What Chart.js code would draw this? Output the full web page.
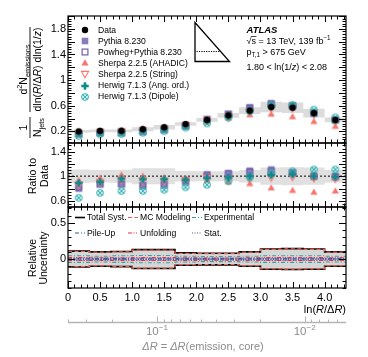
<!DOCTYPE html>
<html>
<head>
<title>Lund plane slice</title>
<script src="https://cdn.jsdelivr.net/npm/chart.js@4.4.1/dist/chart.umd.min.js"></script>
<style>
    body { margin: 0; background: #fff; }
    #wrap { position: relative; width: 368px; height: 357px; }
    #wrap canvas { position: absolute; left: 0; top: 0; }
</style>
</head>
<body>
<div id="wrap">
    <canvas id="topPanel" width="368" height="357"></canvas>
    <canvas id="ratioPanel" width="368" height="357"></canvas>
    <canvas id="uncPanel" width="368" height="357"></canvas>
</div>

<script>
// bins in ln(R/dR)
const binEdges   = [0, 0.333, 0.667, 1.0, 1.333, 1.667, 2.0, 2.333, 2.667, 3.0, 3.333, 3.667, 4.0, 4.333];
const binCenters = [0.167, 0.5, 0.833, 1.167, 1.5, 1.833, 2.167, 2.5, 2.833, 3.167, 3.5, 3.833, 4.167];

// top panel values
const dataVals     = [0.20, 0.21, 0.21, 0.235, 0.265, 0.315, 0.38, 0.45, 0.525, 0.58, 0.57, 0.485, 0.38];
const pythiaVals   = [0.16, 0.185, 0.185, 0.20, 0.23, 0.29, 0.39, 0.47, 0.575, 0.64, 0.60, 0.485, 0.38];
const powhegVals   = [0.165, 0.18, 0.18, 0.20, 0.23, 0.285, 0.385, 0.47, 0.565, 0.625, 0.60, 0.485, 0.375];
const sherpaAVals  = [0.185, 0.205, 0.215, 0.235, 0.26, 0.30, 0.355, 0.41, 0.46, 0.47, 0.43, 0.355, 0.28];
const sherpaSVals  = [0.17, 0.19, 0.20, 0.22, 0.245, 0.295, 0.37, 0.42, 0.505, 0.57, 0.565, 0.47, 0.365];
const herwigAOVals = [0.18, 0.19, 0.20, 0.225, 0.25, 0.295, 0.37, 0.44, 0.525, 0.59, 0.585, 0.485, 0.375];
const herwigDVals  = [0.13, 0.155, 0.16, 0.18, 0.205, 0.26, 0.325, 0.415, 0.515, 0.61, 0.615, 0.54, 0.42];

// ratio to data
const pythiaRatio   = [0.80, 0.88, 0.88, 0.85, 0.87, 0.92, 1.03, 1.05, 1.09, 1.11, 1.06, 1.00, 1.00];
const powhegRatio   = [0.82, 0.87, 0.87, 0.85, 0.86, 0.91, 1.01, 1.04, 1.07, 1.08, 1.05, 1.00, 0.99];
const sherpaARatio  = [0.93, 0.97, 1.02, 1.00, 0.98, 0.95, 0.94, 0.91, 0.88, 0.81, 0.77, 0.74, 0.76];
const sherpaSRatio  = [0.86, 0.90, 0.94, 0.93, 0.92, 0.94, 0.97, 0.93, 0.96, 0.98, 0.99, 0.97, 0.96];
const herwigAORatio = [0.89, 0.91, 0.96, 0.95, 0.95, 0.94, 0.97, 0.98, 1.00, 1.02, 1.03, 1.00, 0.99];
const herwigDRatio  = [0.65, 0.73, 0.76, 0.76, 0.78, 0.82, 0.86, 0.92, 0.98, 1.05, 1.08, 1.11, 1.11];

// relative uncertainties
const totSyst      = [0.11, 0.10, 0.105, 0.13, 0.13, 0.085, 0.08, 0.08, 0.10, 0.14, 0.145, 0.14, 0.10];
const mcModeling   = [0.105, 0.095, 0.10, 0.125, 0.125, 0.08, 0.075, 0.075, 0.095, 0.135, 0.14, 0.135, 0.095];
const experimental = [0.045, 0.04, 0.045, 0.05, 0.05, 0.04, 0.035, 0.035, 0.04, 0.045, 0.045, 0.045, 0.04];
const pileUp       = [0.012, 0.01, 0.01, 0.012, 0.012, 0.01, 0.01, 0.01, 0.01, 0.012, 0.012, 0.012, 0.01];
const unfolding    = [0.02, 0.018, 0.018, 0.02, 0.02, 0.018, 0.015, 0.015, 0.018, 0.02, 0.02, 0.02, 0.018];
const statUnc      = [0.005, 0.005, 0.005, 0.005, 0.005, 0.005, 0.005, 0.005, 0.005, 0.006, 0.006, 0.006, 0.006];

const seriesNames = ['Data', 'Pythia 8.230', 'Powheg+Pythia 8.230', 'Sherpa 2.2.5 (AHADIC)',
                     'Sherpa 2.2.5 (String)', 'Herwig 7.1.3 (Ang. ord.)', 'Herwig 7.1.3 (Dipole)'];
const uncNames = ['Total Syst.', 'MC Modeling', 'Experimental', 'Pile-Up', 'Unfolding', 'Stat.'];

// secondary axis, dR = R * exp(-x)
const deltaRMajor  = [0.1, 0.01];
const deltaRMinor  = [0.4, 0.3, 0.2, 0.09, 0.08, 0.07, 0.06, 0.05, 0.04, 0.03, 0.02, 0.009, 0.008, 0.007, 0.006];
const deltaRLabels = ['\u22121', '\u22122'];

const FONT = '"Liberation Sans", Arial, Helvetica, sans-serif';
const colPythia = '#8a7bbd', colPowheg = '#6f5fa8', colSherpa = '#f8766d';
const colHerwig = '#0f8a8c', colDipole = '#2fb0b0';
const uncStyles = [
    { color: '#000000', dash: [], width: 1.6 },
    { color: '#f0604d', dash: [4, 2.5], width: 1.2 },
    { color: '#36a3a0', dash: [4, 2, 1, 2], width: 1.1 },
    { color: '#1f5fa8', dash: [4, 2, 1, 2], width: 1.1 },
    { color: '#e33545', dash: [4, 1.5, 1, 1.5, 1, 1.5], width: 1.1 },
    { color: '#6653b0', dash: [1, 1.5], width: 1.1 }
];

Chart.defaults.font.family = FONT;
Chart.defaults.color = '#000';

function marker(draw) {
    const c = document.createElement('canvas');
    c.width = 12; c.height = 12;
    const g = c.getContext('2d');
    g.translate(6, 6);
    draw(g);
    return c;
}
function tri(g, dir) {
    g.beginPath();
    g.moveTo(0, -3.8 * dir); g.lineTo(3.6, 2.6 * dir); g.lineTo(-3.6, 2.6 * dir); g.closePath();
}
const mData = marker(g => { g.fillStyle = '#000'; g.beginPath(); g.arc(0, 0, 3.2, 0, 2 * Math.PI); g.fill(); });
const mPythia = marker(g => { g.fillStyle = colPythia; g.fillRect(-3.3, -3.3, 6.6, 6.6); });
const mPowheg = marker(g => { g.strokeStyle = colPowheg; g.lineWidth = 1.2; g.strokeRect(-2.9, -2.9, 5.8, 5.8); });
const mSherpaA = marker(g => { g.fillStyle = colSherpa; tri(g, 1); g.fill(); });
const mSherpaS = marker(g => { g.strokeStyle = colSherpa; g.lineWidth = 1.1; tri(g, -1); g.stroke(); });
const mHerwigAO = marker(g => { g.fillStyle = colHerwig; g.fillRect(-3.7, -1.3, 7.4, 2.6); g.fillRect(-1.3, -3.7, 2.6, 7.4); });
const mHerwigD = marker(g => {
    g.strokeStyle = colDipole; g.lineWidth = 1.1;
    g.beginPath(); g.arc(0, 0, 3.3, 0, 2 * Math.PI); g.stroke();
    g.beginPath(); g.moveTo(-2.3, -2.3); g.lineTo(2.3, 2.3); g.moveTo(2.3, -2.3); g.lineTo(-2.3, 2.3); g.stroke();
});
const markers = [mData, mPythia, mPowheg, mSherpaA, mSherpaS, mHerwigAO, mHerwigD];

function pointSet(vals, img, order) {
    return { data: binCenters.map((x, i) => ({ x: x, y: vals[i] })), showLine: false,
             pointStyle: img, pointRadius: 4, order: order };
}
function stepSet(vals, extra) {
    return Object.assign({
        data: binEdges.map((x, i) => ({ x: x, y: vals[Math.min(i, vals.length - 1)] })),
        stepped: 'before', pointRadius: 0, borderWidth: 0, borderColor: 'rgba(0,0,0,0)', fill: false
    }, extra);
}

// text with italic / sub / sup pieces
function rich(ctx, segs, x, y, size, align) {
    let w = 0;
    const parts = segs.map(s => {
        const sz = (s.sub || s.sup) ? size * 0.7 : size;
        const f = (s.b ? 'bold ' : '') + (s.i ? 'italic ' : '') + sz + 'px ' + FONT;
        ctx.font = f;
        const pw = ctx.measureText(s.t).width;
        w += pw;
        return { t: s.t, f: f, w: pw, dy: s.sub ? size * 0.3 : (s.sup ? -size * 0.42 : 0) };
    });
    let cx = align === 'center' ? x - w / 2 : (align === 'right' ? x - w : x);
    ctx.textAlign = 'left';
    ctx.textBaseline = 'alphabetic';
    parts.forEach(p => { ctx.font = p.f; ctx.fillText(p.t, cx, y + p.dy); cx += p.w; });
    return w;
}
function vRich(ctx, segs, cx, cy, size, v) {
    ctx.save();
    ctx.translate(cx, cy);
    ctx.rotate(-Math.PI / 2);
    rich(ctx, segs, 0, v, size, 'center');
    ctx.restore();
}

function panelFrame(yMajor, yMinor) {
    return {
        id: 'panelFrame',
        afterDatasetsDraw(chart) {
            const { ctx, chartArea: a } = chart;
            const x = chart.scales.x, y = chart.scales.y;
            ctx.save();
            ctx.strokeStyle = '#000';
            ctx.lineWidth = 1;
            ctx.beginPath();
            for (let k = Math.ceil(x.min * 10 - 1e-6); k <= Math.floor(x.max * 10 + 1e-6); k++) {
                const px = Math.round(x.getPixelForValue(k / 10)) + 0.5;
                const len = k % 5 === 0 ? 6 : 3.5;
                ctx.moveTo(px, a.bottom); ctx.lineTo(px, a.bottom - len);
                ctx.moveTo(px, a.top); ctx.lineTo(px, a.top + len);
            }
            const n = Math.round(yMajor / yMinor);
            for (let k = Math.ceil(y.min / yMinor - 1e-6); k <= Math.floor(y.max / yMinor + 1e-6); k++) {
                const py = Math.round(y.getPixelForValue(k * yMinor)) + 0.5;
                const len = k % n === 0 ? 7 : 3.5;
                ctx.moveTo(a.left, py); ctx.lineTo(a.left + len, py);
                ctx.moveTo(a.right, py); ctx.lineTo(a.right - len, py);
            }
            ctx.stroke();
            ctx.lineWidth = 1.2;
            ctx.strokeRect(a.left, a.top, a.right - a.left, a.bottom - a.top);
            ctx.restore();
        }
    };
}

function panelOptions(padTop, padBottom, yMin, yMax, yStep, xAxis) {
    const scales = {
        x: { type: 'linear', min: binEdges[0], max: binEdges[binEdges.length - 1], display: false },
        y: {
            type: 'linear', min: yMin, max: yMax,
            grid: { display: false, drawTicks: false }, border: { display: false },
            ticks: { stepSize: yStep, includeBounds: false, font: { size: 11 }, color: '#000', padding: 2,
                     callback: v => v > 1.9 ? '' : String(Math.round(v * 100) / 100) },
            afterFit: s => { s.width = 68; }
        }
    };
    if (xAxis) {
        scales.x = {
            type: 'linear', position: 'bottom', min: binEdges[0], max: binEdges[binEdges.length - 1],
            grid: { display: false, drawTicks: false }, border: { display: false },
            ticks: { stepSize: 0.5, includeBounds: false, autoSkip: false, maxRotation: 0,
                     font: { size: 11 }, color: '#000', padding: 3 },
            afterFit: s => { s.height = 20; }
        };
        scales.x2 = { type: 'logarithmic', position: 'bottom', min: 0.4 * Math.exp(-binEdges[binEdges.length - 1]),
                      max: 0.4, reverse: true, display: false };
    }
    return {
        responsive: false,
        animation: false,
        layout: { padding: { left: 0, right: 22, top: padTop, bottom: padBottom } },
        plugins: { legend: { display: false }, tooltip: { enabled: false } },
        scales: scales
    };
}

// ---------- top panel ----------
const topDecor = {
    id: 'topDecor',
    afterDraw(chart) {
        const ctx = chart.ctx;
        ctx.save();
        ctx.fillStyle = '#000';
        // y title
        ctx.strokeStyle = '#000'; ctx.lineWidth = 0.9;
        ctx.beginPath(); ctx.moveTo(30, 27); ctx.lineTo(30, 112); ctx.moveTo(30, 117); ctx.lineTo(30, 138); ctx.stroke();
        vRich(ctx, [{ t: 'd' }, { t: '2', sup: true }, { t: 'N' }, { t: 'emissions', sub: true }], 30, 69.5, 10.5, -3.5);
        vRich(ctx, [{ t: 'dln(' }, { t: 'R', i: true }, { t: '/\u0394' }, { t: 'R', i: true },
                    { t: ') dln(1/' }, { t: 'z', i: true }, { t: ')' }], 30, 69.5, 10.5, 10.5);
        vRich(ctx, [{ t: '1' }], 30, 127.5, 10.5, -3.5);
        vRich(ctx, [{ t: 'N' }, { t: 'jets', sub: true }], 30, 127.5, 10.5, 10.5);

        // legend
        ctx.textBaseline = 'middle';
        ctx.textAlign = 'left';
        ctx.font = '8.6px ' + FONT;
        seriesNames.forEach((name, i) => {
            const yy = 30 + i * 11.1;
            ctx.drawImage(markers[i], 85 - 6, Math.round(yy) - 6);
            ctx.fillText(name, 98, yy + 0.5);
        });

        // Lund plane sketch
        ctx.lineWidth = 1.3;
        ctx.beginPath(); ctx.moveTo(195, 22.5); ctx.lineTo(195, 61.5); ctx.lineTo(229.5, 61.5); ctx.closePath(); ctx.stroke();
        ctx.lineWidth = 1; ctx.setLineDash([1.2, 1.2]);
        ctx.beginPath(); ctx.moveTo(196.5, 51.5); ctx.lineTo(221, 51.5); ctx.stroke();
        ctx.setLineDash([]);

        // ATLAS label
        rich(ctx, [{ t: 'ATLAS', b: true, i: true }], 246.5, 32.5, 9.5, 'left');
        const wRoot = rich(ctx, [{ t: '\u221A' }], 246.5, 43.5, 9, 'left');
        ctx.font = '9px ' + FONT;
        const wS = ctx.measureText('s').width;
        ctx.fillRect(246.5 + wRoot - 0.5, 36, wS + 1, 0.7);
        rich(ctx, [{ t: 's = 13 TeV, 139 fb' }, { t: '\u22121', sup: true }], 246.5 + wRoot, 43.5, 9, 'left');
        rich(ctx, [{ t: 'p' }, { t: 'T,1', sub: true }, { t: ' > 675 GeV' }], 246.5, 54.5, 9, 'left');
        rich(ctx, [{ t: '1.80 < ln(1/' }, { t: 'z', i: true }, { t: ') < 2.08' }], 246.5, 70, 9, 'left');
        ctx.restore();
    }
};

new Chart(document.getElementById('topPanel'), {
    type: 'line',
    data: {
        datasets: [
            pointSet(dataVals, mData, 0),
            pointSet(pythiaVals, mPythia, 6),
            pointSet(powhegVals, mPowheg, 5),
            pointSet(sherpaAVals, mSherpaA, 4),
            pointSet(sherpaSVals, mSherpaS, 3),
            pointSet(herwigAOVals, mHerwigAO, 1),
            pointSet(herwigDVals, mHerwigD, 2),
            stepSet(dataVals.map((v, i) => v * (1 + totSyst[i])), { fill: '+1', backgroundColor: '#dcdcdc', order: 20 }),
            stepSet(dataVals.map((v, i) => v * (1 - totSyst[i])), { order: 21 })
        ]
    },
    options: panelOptions(16, 214, 0.02, 2.0, 0.2, false),
    plugins: [panelFrame(0.2, 0.04), topDecor]
});

// ---------- ratio panel ----------
const ratioDecor = {
    id: 'ratioDecor',
    afterDraw(chart) {
        const ctx = chart.ctx;
        ctx.save();
        ctx.fillStyle = '#000';
        vRich(ctx, [{ t: 'Ratio to' }], 32.5, 176, 10.5, 3.8);
        vRich(ctx, [{ t: 'Data' }], 44, 176, 10.5, 3.8);
        ctx.restore();
    }
};

new Chart(document.getElementById('ratioPanel'), {
    type: 'line',
    data: {
        datasets: [
            pointSet(pythiaRatio, mPythia, 6),
            pointSet(powhegRatio, mPowheg, 5),
            pointSet(sherpaARatio, mSherpaA, 4),
            pointSet(sherpaSRatio, mSherpaS, 3),
            pointSet(herwigAORatio, mHerwigAO, 1),
            pointSet(herwigDRatio, mHerwigD, 2),
            { data: [{ x: binEdges[0], y: 1 }, { x: binEdges[binEdges.length - 1], y: 1 }], pointRadius: 0,
              borderColor: '#555', borderWidth: 1.6, borderDash: [2, 2], order: 10 },
            stepSet(totSyst.map(u => 1 + u), { fill: '+1', backgroundColor: '#e0e0e0', order: 20 }),
            stepSet(totSyst.map(u => 1 - u), { order: 21 })
        ]
    },
    options: panelOptions(143, 150, 0.5, 1.54, 0.2, false),
    plugins: [panelFrame(0.2, 0.05), ratioDecor]
});

// ---------- uncertainty panel ----------
const uncSets = [totSyst, mcModeling, experimental, pileUp, unfolding, statUnc];
const uncDatasets = [
    stepSet(totSyst, { fill: '+1', backgroundColor: '#d6d6d6', order: 30 }),
    stepSet(totSyst.map(v => -v), { order: 31 })
];
uncSets.forEach((vals, k) => {
    const st = uncStyles[k];
    [1, -1].forEach(sign => {
        uncDatasets.push(stepSet(vals.map(v => sign * v), {
            borderColor: st.color, borderWidth: st.width, borderDash: st.dash, order: 10 - k
        }));
    });
});

const uncDecor = {
    id: 'uncDecor',
    afterDraw(chart) {
        const ctx = chart.ctx;
        const a = chart.chartArea;
        const x2 = chart.scales.x2;
        ctx.save();
        ctx.fillStyle = '#000';
        vRich(ctx, [{ t: 'Relative' }], 32.5, 258, 10.5, 3.8);
        vRich(ctx, [{ t: 'Uncertainty' }], 43.5, 258, 10.5, 3.8);

        // legend
        const cols = [75, 128, 192];
        const rows = [217.5, 233];
        ctx.font = '8.6px ' + FONT;
        ctx.textBaseline = 'middle';
        ctx.textAlign = 'left';
        uncNames.forEach((name, k) => {
            const lx = cols[k % 3], ly = rows[Math.floor(k / 3)];
            const st = uncStyles[k];
            ctx.strokeStyle = st.color; ctx.lineWidth = st.width; ctx.setLineDash(st.dash);
            ctx.beginPath(); ctx.moveTo(lx, ly); ctx.lineTo(lx + 10, ly); ctx.stroke();
            ctx.setLineDash([]);
            ctx.fillStyle = '#000';
            ctx.fillText(name, lx + 12, ly + 0.5);
        });

        // x title
        ctx.fillStyle = '#000';
        rich(ctx, [{ t: 'ln(' }, { t: 'R', i: true }, { t: '/\u0394' }, { t: 'R', i: true }, { t: ')' }], 346, 313, 11, 'right');

        // secondary dR axis
        const yLine = 322.5;
        ctx.strokeStyle = '#b4b4b4'; ctx.lineWidth = 1.6;
        ctx.beginPath(); ctx.moveTo(a.left, yLine); ctx.lineTo(a.right, yLine); ctx.stroke();
        ctx.lineWidth = 1;
        ctx.beginPath();
        deltaRMinor.forEach(v => { const px = Math.round(x2.getPixelForValue(v)) + 0.5; ctx.moveTo(px, yLine); ctx.lineTo(px, yLine - 3); });
        deltaRMajor.forEach(v => { const px = Math.round(x2.getPixelForValue(v)) + 0.5; ctx.moveTo(px, yLine); ctx.lineTo(px, yLine - 6); });
        ctx.stroke();
        ctx.fillStyle = '#8c8c8c';
        deltaRMajor.forEach((v, k) => {
            const px = x2.getPixelForValue(v);
            rich(ctx, [{ t: '10' }, { t: deltaRLabels[k], sup: true }], px, 335, 11.5, 'center');
        });
        rich(ctx, [{ t: '\u0394R', i: true }, { t: ' = ' }, { t: '\u0394R', i: true }, { t: '(emission, core)' }],
             (a.left + a.right) / 2 - 4, 350, 11, 'center');
        ctx.restore();
    }
};

new Chart(document.getElementById('uncPanel'), {
    type: 'line',
    data: { datasets: uncDatasets },
    options: panelOptions(207, 49, -0.4, 0.72, 0.5, true),
    plugins: [panelFrame(0.5, 0.1), uncDecor]
});
</script>
</body>
</html>
